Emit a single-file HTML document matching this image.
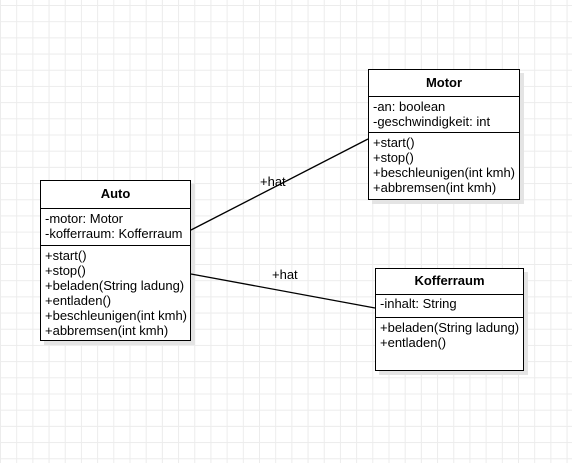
<!DOCTYPE html>
<html><head><style>
body{margin:0;width:572px;height:463px;overflow:hidden;background:#fff;
background-image:linear-gradient(#ececec 1px,transparent 1px),linear-gradient(90deg,#ececec 1px,transparent 1px);
background-size:16.2px 16.2px;background-position:0 5px;font-family:"Liberation Sans",sans-serif;font-size:13px;color:#000;position:relative}
.b{position:absolute;background:#fff;border:1px solid #000;box-shadow:4px 4px 0 #e4e4e4;box-sizing:border-box}
.h{font-weight:bold;text-align:center;border-bottom:1px solid #000;box-sizing:border-box}
.s{padding:2px 4px;line-height:15px;box-sizing:border-box;white-space:nowrap}
.l{position:absolute;font-size:13px}
</style></head><body>
<div class="l" style="left:260px;top:174px">+hat</div>
<div class="l" style="left:272px;top:267px">+hat</div>
<div class="b" style="left:40px;top:180px;width:151px;height:161px">
<div class="h" style="height:28px;line-height:26px">Auto</div>
<div class="s" style="height:36px">-motor: Motor<br>-kofferraum: Kofferraum</div>
<div class="s" style="border-top:1px solid #000">+start()<br>+stop()<br>+beladen(String ladung)<br>+entladen()<br>+beschleunigen(int kmh)<br>+abbremsen(int kmh)</div>
</div>
<div class="b" style="left:368px;top:69px;width:152px;height:131px">
<div class="h" style="height:27px;line-height:25px">Motor</div>
<div class="s" style="height:35px">-an: boolean<br>-geschwindigkeit: int</div>
<div class="s" style="border-top:1px solid #000">+start()<br>+stop()<br>+beschleunigen(int kmh)<br>+abbremsen(int kmh)</div>
</div>
<div class="b" style="left:375px;top:268px;width:149px;height:103px">
<div class="h" style="height:26px;line-height:24px">Kofferraum</div>
<div class="s" style="height:22px;line-height:16px;padding-top:1px">-inhalt: String</div>
<div class="s" style="border-top:1px solid #000">+beladen(String ladung)<br>+entladen()</div>
</div>
<svg style="position:absolute;left:0;top:0;z-index:5" width="572" height="463">
<line x1="191" y1="230" x2="368" y2="139" stroke="#000" stroke-width="1.3"/>
<line x1="191" y1="274" x2="375" y2="308" stroke="#000" stroke-width="1.3"/>
</svg>
</body></html>
